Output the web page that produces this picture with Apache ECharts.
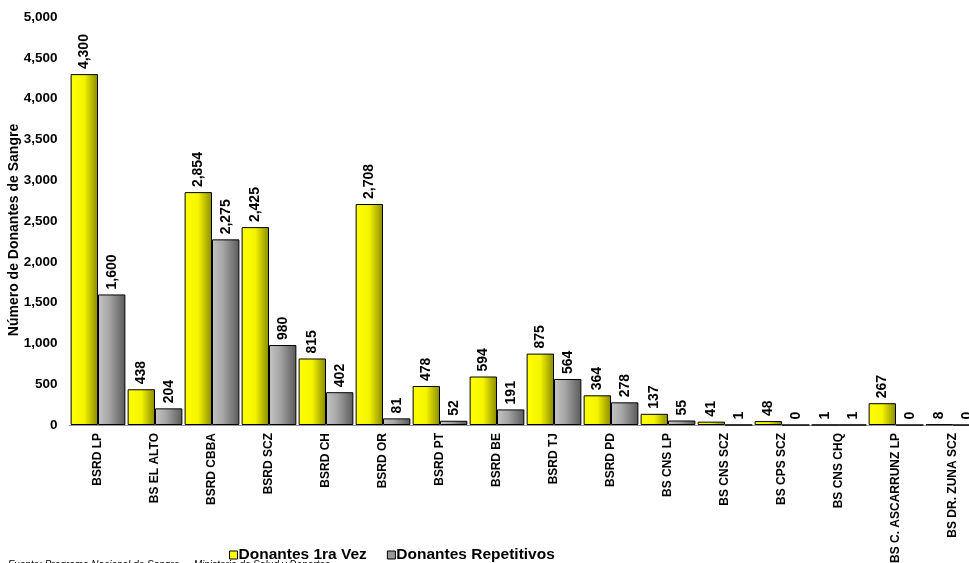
<!DOCTYPE html>
<html><head><meta charset="utf-8">
<script src="https://cdn.jsdelivr.net/npm/echarts@6/dist/echarts.min.js"></script>
<style>html,body{margin:0;padding:0;background:#fff;overflow:hidden}#c{width:982px;height:563px}</style>
</head><body><div id="c"></div>
<script>
const categories = ['BSRD LP','BS EL ALTO','BSRD CBBA','BSRD SCZ','BSRD CH','BSRD OR','BSRD PT','BSRD BE','BSRD TJ','BSRD PD','BS CNS LP','BS CNS SCZ','BS CPS SCZ','BS CNS CHQ','BS C. ASCARRUNZ LP','BS DR. ZUNA SCZ'];
const primeraVez = [4300,438,2854,2425,815,2708,478,594,875,364,137,41,48,1,267,8];
const repetitivos = [1600,204,2275,980,402,81,52,191,564,278,55,1,0,1,0,0];
const seriesNames = ['Donantes 1ra Vez','Donantes Repetitivos'];
const yTicks = {min:0, max:5000, interval:500};

const F = 'Liberation Sans, Arial, sans-serif';
const grad = (a,mid,b,o) => new echarts.graphic.LinearGradient(0,0,1,0,[{offset:0,color:a},{offset:o,color:mid},{offset:1,color:b}]);
const lbl = {show:true, position:'top', rotate:90, align:'left', verticalAlign:'middle', distance:5,
  fontFamily:F, fontWeight:'bold', fontSize:14, color:'#000',
  formatter: p => p.value.toLocaleString('en-US')};
const chart = echarts.init(document.getElementById('c'), null, {renderer:'canvas'});
chart.setOption({
  animation:false,
  grid:{left:69.5, right:0.5, top:17, bottom:138, containLabel:false, outerBoundsMode:'none'},
  legend:{top:542, left:224, itemWidth:8, itemHeight:8, itemGap:20, icon:'rect',
    textStyle:{fontFamily:F, fontWeight:'bold', fontSize:15.5, color:'#000', padding:[0,0,0,-4]},
    data:[{name:seriesNames[0], itemStyle:{color:'#ffff00', borderColor:'#000', borderWidth:1}},
          {name:seriesNames[1], itemStyle:{color:'#999', borderColor:'#000', borderWidth:1}}]},
  xAxis:{type:'category', data:categories,
    axisLine:{show:true, lineStyle:{color:'#999', width:1}}, axisTick:{show:false},
    axisLabel:{rotate:90, interval:0, margin:8, fontFamily:F, fontWeight:'bold', fontSize:12, color:'#000'}},
  yAxis:{type:'value', min:yTicks.min, max:yTicks.max, interval:yTicks.interval,
    axisLine:{show:false}, axisTick:{show:false}, splitLine:{show:false},
    axisLabel:{fontFamily:F, fontWeight:'bold', fontSize:13.5, color:'#000', margin:12,
      formatter: v => v.toLocaleString('en-US')}},
  series:[
    {name:seriesNames[0], type:'bar', data:primeraVez, barGap:'0%', barCategoryGap:'4%',
     itemStyle:{color:grad('#ffff00','#f4f400','#8a8a00',0.5), borderColor:'#000', borderWidth:1}, label:lbl},
    {name:seriesNames[1], type:'bar', data:repetitivos,
     itemStyle:{color:grad('#c4c4c4','#a6a6a6','#5a5a5a',0.4), borderColor:'#000', borderWidth:1}, label:lbl}
  ],
  graphic:[
    {type:'text', x:14, y:230, rotation:Math.PI/2, style:{text:'Número de Donantes de Sangre',
      font:'bold 14px Liberation Sans, Arial, sans-serif', fill:'#000', align:'center', verticalAlign:'middle'}},
    {type:'text', left:8, top:560, style:{text:'Fuente: Programa Nacional de Sangre  -  Ministerio de Salud y Deportes',
    font:'italic 10px Liberation Sans, Arial, sans-serif', fill:'#000'}}]
});
</script></body></html>
